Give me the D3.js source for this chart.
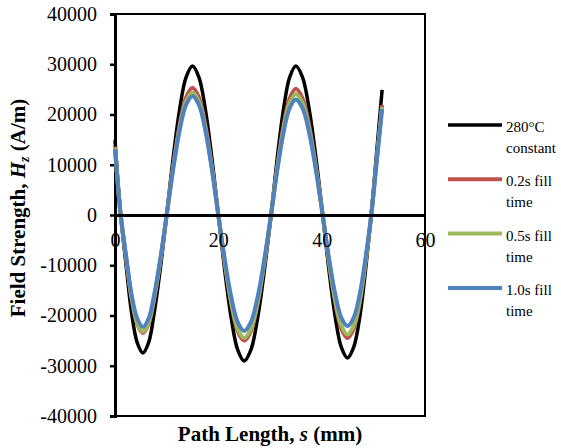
<!DOCTYPE html>
<html>
<head>
<meta charset="utf-8">
<script src="https://cdn.jsdelivr.net/npm/d3@7"></script>
<style>
  body { margin: 0; background: #fff; }
  svg text { font-family: "Times New Roman", "Liberation Serif", "DejaVu Serif", serif !important; }
</style>
</head>
<body>
<script>

//SVG dimension variables
var w = 561, h = 448;

//path length positions (mm), shared by every series
var pathLength = [0, 0.5, 1.1, 2.2, 3.2, 4.3, 5.4, 6.5, 7.6, 8.8, 10.0,
    11.25, 12.5, 13.75, 15.0, 16.25, 17.5, 18.75, 20.0,
    21.25, 22.5, 23.75, 25.0, 26.3, 27.6, 28.9, 30.2,
    31.4, 32.6, 33.8, 35.0, 36.3, 37.6, 38.9, 40.2,
    41.4, 42.6, 43.8, 45.0, 46.2, 47.4, 48.5, 49.6, 50.6, 51.7];

//field strength Hz (A/m) for each condition
var constant280 = [14900, 7600, 0, -10500, -19400, -25400, -27460, -25400, -19400, -10500, 0,
    11350, 20960, 27400, 29650, 27400, 20960, 11350, 0,
    -11130, -20540, -26840, -29050, -26840, -20540, -11130, 0,
    11350, 20960, 27400, 29650, 27400, 20960, 11350, 0,
    -10900, -20120, -26300, -28460, -26300, -20120, -10900, 0, 12000, 24900];

var fill02 = [13600, 6900, 0, -8990, -16600, -21700, -23480, -21700, -16600, -8990, 0,
    9690, 17890, 23380, 25300, 23380, 17890, 9690, 0,
    -9580, -17680, -23100, -25000, -23100, -17680, -9580, 0,
    9610, 17750, 23190, 25100, 23190, 17750, 9610, 0,
    -9380, -17310, -22620, -24480, -22620, -17310, -9380, 0, 10500, 21900];

var fill05 = [13400, 6800, 0, -8880, -16390, -21420, -23180, -21420, -16390, -8880, 0,
    9350, 17250, 22550, 24400, 22550, 17250, 9350, 0,
    -9380, -17310, -22620, -24480, -22620, -17310, -9380, 0,
    9230, 17040, 22270, 24100, 22270, 17040, 9230, 0,
    -9120, -16830, -21990, -23800, -21990, -16830, -9120, 0, 10300, 21500];

var fill10 = [13100, 6600, 0, -8540, -15760, -20600, -22290, -20600, -15760, -8540, 0,
    9080, 16760, 21900, 23700, 21900, 16760, 9080, 0,
    -8840, -16320, -21330, -23080, -21330, -16320, -8840, 0,
    8810, 16260, 21250, 23000, 21250, 16260, 8810, 0,
    -8460, -15620, -20410, -22090, -20410, -15620, -8460, 0, 10100, 21100];

//legend entries (two text lines each)
var seriesNames = [["280°C", "constant"], ["0.2s fill", "time"], ["0.5s fill", "time"], ["1.0s fill", "time"]];
var seriesColors = ["#000000", "#C0504D", "#9BBB59", "#4F81BD"];
var seriesWidths = [3.5, 4, 4, 4];

//axis ticks
var xTicks = [0, 20, 40, 60];
var yTicks = [-40000, -30000, -20000, -10000, 0, 10000, 20000, 30000, 40000];

var serif = "'Times New Roman', 'Liberation Serif', serif";

window.onload = function(){

    var svg = d3.select("body")
        .append("svg")
        .attr("width", w)
        .attr("height", h)
        .attr("font-family", serif);

    var x = d3.scaleLinear().domain([0, 60]).range([115, 425]);
    var y = d3.scaleLinear().domain([-40000, 40000]).range([416, 14]);

    //plot box (top, right, bottom)
    svg.append("path")
        .attr("d", "M" + x(0) + "," + y(40000) + "H" + x(60) + "V" + y(-40000) + "H" + x(0))
        .style("fill", "none")
        .style("stroke", "#000")
        .style("stroke-width", 2);

    //y axis
    var yAxis = svg.append("g")
        .attr("transform", "translate(" + x(0) + ",0)")
        .call(d3.axisLeft(y).tickValues(yTicks).tickSize(5).tickPadding(13)
            .tickFormat(function(d){ return String(d); }))
        .attr("font-family", serif)
        .attr("font-size", 20);
    yAxis.select(".domain").style("stroke-width", 3);
    yAxis.selectAll(".tick line").style("stroke-width", 2.5);
    yAxis.selectAll("text").style("fill", "#000");

    //series lines
    var series = [constant280, fill02, fill05, fill10];
    var line = d3.line()
        .x(function(d, i){ return x(pathLength[i]); })
        .y(function(d){ return y(d); })
        .curve(d3.curveCatmullRom);

    svg.selectAll(".series")
        .data(series)
        .enter()
        .append("path")
        .attr("class", "series")
        .attr("d", line)
        .style("fill", "none")
        .style("stroke", function(d, i){ return seriesColors[i]; })
        .style("stroke-width", function(d, i){ return seriesWidths[i]; })
        .style("stroke-linejoin", "round");

    //x axis along zero
    var xAxis = svg.append("g")
        .attr("transform", "translate(0," + y(0) + ")")
        .call(d3.axisBottom(x).tickValues(xTicks).tickSize(0).tickPadding(18)
            .tickFormat(function(d){ return String(d); }))
        .attr("font-family", serif)
        .attr("font-size", 20);
    xAxis.select(".domain").style("stroke-width", 3);
    xAxis.selectAll("text").style("fill", "#000");

    //axis titles
    var xTitle = svg.append("text")
        .attr("x", 270)
        .attr("y", 441)
        .attr("text-anchor", "middle")
        .style("font-size", "21px")
        .style("font-weight", "bold");
    xTitle.append("tspan").text("Path Length, ");
    xTitle.append("tspan").style("font-style", "italic").text("s");
    xTitle.append("tspan").text(" (mm)");

    var yTitle = svg.append("text")
        .attr("transform", "translate(25,208) rotate(-90)")
        .attr("text-anchor", "middle")
        .style("font-size", "21px")
        .style("font-weight", "bold");
    yTitle.append("tspan").text("Field Strength, ");
    yTitle.append("tspan").style("font-style", "italic").text("H");
    yTitle.append("tspan").style("font-style", "italic").style("font-size", "14px").attr("dy", 4).text("z");
    yTitle.append("tspan").attr("dy", -4).text(" (A/m)");

    //legend
    var legend = svg.selectAll(".legend")
        .data(seriesNames)
        .enter()
        .append("g")
        .attr("class", "legend")
        .attr("transform", function(d, i){ return "translate(0," + (125 + i * 54.3) + ")"; });

    legend.append("line")
        .attr("x1", 448)
        .attr("x2", 502)
        .style("stroke", function(d, i){ return seriesColors[i]; })
        .style("stroke-width", function(d, i){ return i === 0 ? 3.5 : 4; });

    legend.append("text")
        .attr("x", 506)
        .attr("y", 7)
        .style("font-size", "15px")
        .text(function(d){ return d[0]; });

    legend.append("text")
        .attr("x", 506)
        .attr("y", 28)
        .style("font-size", "15px")
        .text(function(d){ return d[1]; });
};

</script>
</body>
</html>
